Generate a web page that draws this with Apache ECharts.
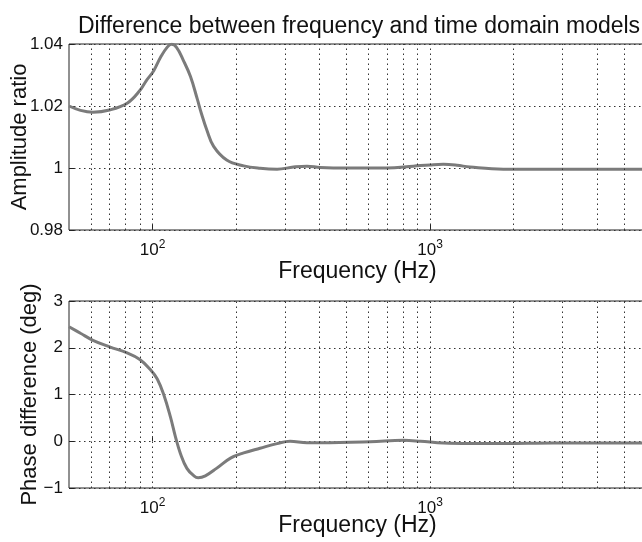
<!DOCTYPE html>
<html>
<head>
<meta charset="utf-8">
<script src="https://cdn.jsdelivr.net/npm/echarts@6/dist/echarts.min.js"></script>
<style>
html, body { margin: 0; padding: 0; background: #fff; }
#chart { width: 642px; height: 542px; }
</style>
</head>
<body>
<div id="chart"></div>
<script>
// amplitude ratio (top panel)
var ampFreq = [50, 55, 61, 70, 81, 90, 95, 101, 107, 113, 117, 122, 129, 137, 145, 150, 157, 166, 185, 213, 244, 281, 322, 360, 402, 500, 698, 871, 1000, 1117, 1250, 1393, 1836, 2780, 4000, 6000];
var ampRatio = [1.0200, 1.0186, 1.0180, 1.0187, 1.0209, 1.0250, 1.0282, 1.0314, 1.0358, 1.0390, 1.0399, 1.0389, 1.0348, 1.0295, 1.0222, 1.0176, 1.0122, 1.0070, 1.0026, 1.0007, 0.9999, 0.9996, 1.0003, 1.0006, 1.0002, 1.0000, 1.0000, 1.0006, 1.0010, 1.0012, 1.0009, 1.0003, 0.9996, 0.9996, 0.9996, 0.9996];

// phase difference (bottom panel)
var phFreq = [50, 55, 61, 70, 81, 90, 98, 104, 110, 116, 121, 126, 133, 141, 146, 155, 170, 191, 213, 244, 281, 313, 360, 402, 608, 802, 923, 1117, 1393, 1836, 2780, 6000];
var phDiff = [2.45, 2.31, 2.16, 2.02, 1.89, 1.75, 1.54, 1.33, 0.98, 0.52, 0.09, -0.26, -0.58, -0.74, -0.78, -0.74, -0.58, -0.36, -0.25, -0.15, -0.05, 0.0, -0.03, -0.03, -0.01, 0.02, 0.0, -0.04, -0.05, -0.05, -0.04, -0.04];

// log grid lines
var gridFreqs = [60, 70, 80, 90, 100, 200, 300, 400, 500, 600, 700, 800, 900, 1000, 2000, 3000, 4000, 5000];
var freqMin = 50, freqMax = 6000;

var FONT = 'Liberation Sans, Arial, sans-serif';
var dotted = { color: '#333', width: 1, type: [1.5, 3.5] };

function toPairs(xs, ys) {
	var out = [];
	for (var i = 0; i < xs.length; i++) out.push([xs[i], ys[i]]);
	return out;
}

function logLabel(v) {
	var p = Math.log10(v);
	if (Math.abs(p - Math.round(p)) < 1e-6) return '{b|10}{s|' + Math.round(p) + '}';
	return '';
}

function xAxisOf(idx, gap) {
	return {
		type: 'log', logBase: 10, gridIndex: idx,
		min: freqMin, max: freqMax,
		name: 'Frequency (Hz)', nameLocation: 'middle', nameGap: gap, nameMoveOverlap: false,
		nameTextStyle: { fontFamily: FONT, fontSize: 23, color: '#111' },
		axisLine: { show: false },
		axisTick: { show: true, inside: true, length: 5, lineStyle: { color: '#222' } },
		splitLine: { show: false },
		axisLabel: {
			margin: 9, formatter: logLabel, showMinLabel: false, showMaxLabel: false,
			rich: {
				b: { fontFamily: FONT, fontSize: 17, color: '#111' },
				s: { fontFamily: FONT, fontSize: 12, color: '#111', verticalAlign: 'bottom', padding: [0, 0, 10, 0] }
			}
		}
	};
}

function yAxisOf(idx, name, gap, min, max, step, fmt) {
	return {
		type: 'value', gridIndex: idx, min: min, max: max, interval: step,
		name: name, nameLocation: 'middle', nameGap: gap, nameMoveOverlap: false,
		nameTextStyle: { fontFamily: FONT, fontSize: 22, color: '#111' },
		axisLine: { show: false },
		axisTick: { show: true, inside: true, length: 5, lineStyle: { color: '#222' } },
		splitLine: { show: true, lineStyle: dotted },
		axisLabel: { margin: 6, fontFamily: FONT, fontSize: 17, color: '#111', formatter: fmt }
	};
}

function seriesOf(idx, data) {
	return {
		type: 'line', xAxisIndex: idx, yAxisIndex: idx,
		data: data, showSymbol: false, smooth: 0.4,
		lineStyle: { color: '#7b7b7b', width: 3 },
		markLine: {
			silent: true, symbol: ['none', 'none'], label: { show: false },
			lineStyle: dotted, animation: false,
			data: gridFreqs.map(function (f) { return { xAxis: f }; })
		},
		z: 3
	};
}

var chart = echarts.init(document.getElementById('chart'), null, { renderer: 'canvas' });
chart.setOption({
	animation: false,
	backgroundColor: '#fff',
	title: {
		text: 'Difference between frequency and time domain models',
		left: 73, top: 10,
		textStyle: { fontFamily: FONT, fontSize: 23, fontWeight: 'normal', color: '#111' }
	},
	grid: [
		{ left: 69, top: 44, width: 577, height: 186, show: true, borderColor: '#222', borderWidth: 1, backgroundColor: 'transparent', outerBoundsMode: 'none' },
		{ left: 69, top: 301, width: 577, height: 187, show: true, borderColor: '#222', borderWidth: 1, backgroundColor: 'transparent', outerBoundsMode: 'none' }
	],
	xAxis: [xAxisOf(0, 30), xAxisOf(1, 26)],
	yAxis: [
		yAxisOf(0, 'Amplitude ratio', 38, 0.98, 1.04, 0.02, function (v) { return v === 1 ? '1' : v.toFixed(2); }),
		yAxisOf(1, 'Phase difference (deg)', 28, -1, 3, 1, function (v) { return v < 0 ? '\u2212' + Math.abs(v) : String(v); })
	],
	series: [seriesOf(0, toPairs(ampFreq, ampRatio)), seriesOf(1, toPairs(phFreq, phDiff))]
});
</script>
</body>
</html>
